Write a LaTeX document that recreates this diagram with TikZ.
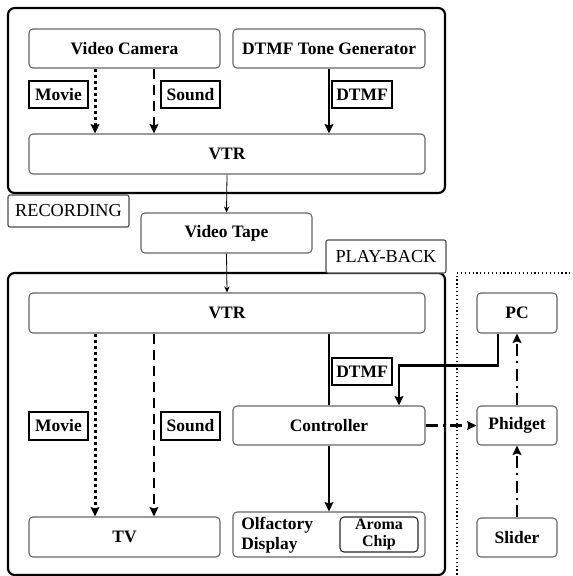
\documentclass[tikz,border=0pt]{standalone}
\usepackage{fontspec}
\setmainfont{Liberation Serif}
\usetikzlibrary{arrows.meta,calc}

\begin{document}
\begin{tikzpicture}[x=0.75pt,y=-0.75pt,>={Stealth[length=7pt,width=6.5pt,inset=1pt]},
  wh/.style 2 args={minimum width=#1*0.75pt, minimum height=#2*0.75pt},
  frame/.style={draw, line width=1.6pt, rounded corners=5pt, inner sep=0pt},
  unit/.style={draw=black!60, line width=0.8pt, rounded corners=3pt, inner sep=0pt,
    font=\fontsize{13.1}{14}\selectfont\bfseries},
  tag/.style={draw, line width=0.8pt, inner sep=0pt, font=\fontsize{13.1}{14}\selectfont\bfseries},
  phase/.style={draw=black!70, line width=0.8pt, rounded corners=1.5pt, inner sep=0pt,
    fill=white, font=\fontsize{13.7}{14}\selectfont},
  movie/.style={->, line width=2.2pt, dash pattern=on 2.3pt off 2.2pt},
  sound/.style={->, line width=2.1pt, dash pattern=on 8pt off 4pt},
  signal/.style={->, line width=2.2pt},
  ctrlsig/.style={->, line width=2.2pt, dash pattern=on 9pt off 4pt on 1.6pt off 4pt},
  tapeflow/.style={-{Stealth[length=4.5pt,width=4pt]}, line width=0.6pt}
]
\useasboundingbox (0,0) rectangle (573,576);
\clip (0,0) rectangle (573,576);

% the two phases
  \node[frame, wh={437}{185}] (recbox)  at (226.5,100.5) {};
  \node[frame, wh={437}{302}] (playbox) at (226.5,424) {};
  \draw[dotted, line width=0.9pt] (457,590) |- (590,273);

% recording side
  \node[unit, wh={191}{39}] (cam)    at (124.5,48.5) {Video Camera};
  \node[unit, wh={192}{39}] (gen)    at (329,48.5)   {DTMF Tone Generator};
  \node[unit, wh={396}{40}] (vtrA)   at (227,154)    {VTR};
  \node[tag,  wh={59}{27}]  (movieA) at (58.5,94.5)  {Movie};
  \node[tag,  wh={59}{27}]  (soundA) at (190.5,94.5) {Sound};
  \node[tag,  wh={60}{27}]  (dtmfA)  at (362,94.5)   {DTMF};

  \node[phase, wh={121}{32}] (recording) at (68.5,211)  {RECORDING};
  \node[unit,  wh={171}{40}] (tape)      at (226.5,233) {Video Tape};
  \node[phase, wh={120}{33}] (playback)  at (386,256.5) {PLAY-BACK};

% play-back side
  \node[unit, wh={396}{40}] (vtrB)   at (227,313)    {VTR};
  \node[tag,  wh={60}{27}]  (dtmfB)  at (362,371.5)  {DTMF};
  \node[tag,  wh={59}{28}]  (movieB) at (58.5,426)   {Movie};
  \node[tag,  wh={59}{28}]  (soundB) at (190.5,426)  {Sound};
  \node[unit, wh={192}{39}] (ctrl)   at (329,425.5)  {Controller};
  \node[unit, wh={191}{40}] (tv)     at (124.5,537)  {TV};
  \node[unit, wh={192}{45}] (olf)    at (329,534.5)  {};
  \node[font=\fontsize{13.1}{14.8}\selectfont\bfseries, align=left, anchor=west, inner sep=0pt]
    (olftext) at (241,535) {Olfactory\\Display};
  \node[unit, draw=black!85, wh={78}{35}, align=center, font=\fontsize{12}{13}\selectfont\bfseries]
    (aroma) at (379,534.5) {Aroma\\Chip};

% outside devices
  \node[unit, wh={80}{40}] (pc)      at (517,313)   {PC};
  \node[unit, wh={80}{39}] (phidget) at (517,425.5) {Phidget};
  \node[unit, wh={80}{39}] (slider)  at (517,537.5) {Slider};

% define the links
  \coordinate (mA) at ([xshift=-22.1pt]cam.south);
  \coordinate (sA) at ([xshift=22.1pt]cam.south);
  \coordinate (mB) at ([xshift=-22.1pt]tv.north);
  \coordinate (sB) at ([xshift=22.1pt]tv.north);
  \coordinate (pcout) at ([xshift=-14.25pt]pc.south);
  \coordinate (ctin)  at ([xshift=52.5pt]ctrl.north);

  \draw[movie]  (mA) -- (mA |- vtrA.north);
  \draw[sound]  (sA) -- (sA |- vtrA.north);
  \draw[signal] (gen.south) -- (gen.south |- vtrA.north);
  \draw[tapeflow] (vtrA.south) -- (tape.north);
  \draw[tapeflow] (tape.south) -- (vtrB.north);

  \draw[movie]  (mB |- vtrB.south) -- (mB);
  \draw[sound]  (sB |- vtrB.south) -- (sB);
  \draw[line width=2.2pt] (ctrl.north |- vtrB.south) -- (ctrl.north);
  \draw[signal] (ctrl.south) -- (olf.north);
  \draw[signal] (pcout) |- ($(ctin)+(0,-40)$) -- (ctin);

  \draw[ctrlsig] (ctrl.east) -- (phidget.west);
  \draw[ctrlsig] (phidget.north) -- (pc.south);
  \draw[ctrlsig] (slider.north) -- (phidget.south);
\end{tikzpicture}
\end{document}
